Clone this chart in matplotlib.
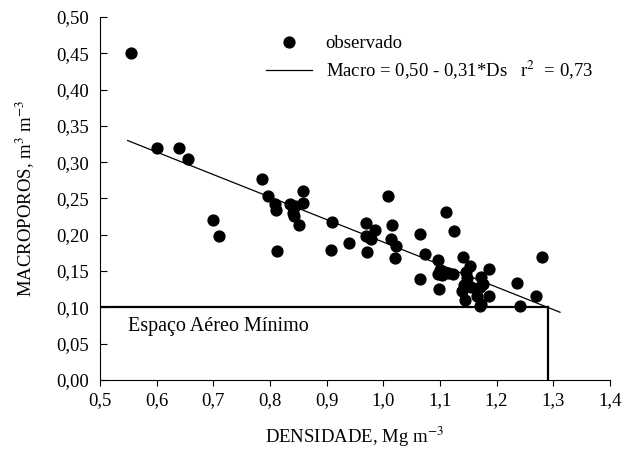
import numpy as np
import matplotlib
matplotlib.use('Agg')
import matplotlib.pyplot as plt

plt.rcParams['font.family'] = ['Liberation Serif', 'DejaVu Serif']
plt.rcParams['mathtext.fontset'] = 'stix'

# observed points (density, macroporosity)
dens = [0.555, 0.600, 0.640, 0.655, 0.700, 0.710, 0.786, 0.797, 0.809, 0.810,
        0.812, 0.836, 0.845, 0.840, 0.842, 0.858, 0.859, 0.851, 0.909, 0.908,
        0.940, 0.969, 0.971, 0.969, 0.985, 0.978, 1.008, 1.016, 1.013, 1.023,
        1.021, 1.065, 1.125, 1.073, 1.096, 1.065, 1.099, 1.100, 1.097, 1.107,
        1.115, 1.123, 1.103, 1.111, 1.141, 1.153, 1.146, 1.147, 1.142, 1.155,
        1.139, 1.145, 1.173, 1.176, 1.171, 1.165, 1.172, 1.171, 1.187, 1.187,
        1.236, 1.241, 1.270, 1.280]
macro = [0.450, 0.320, 0.320, 0.304, 0.221, 0.199, 0.277, 0.253, 0.242, 0.234,
         0.178, 0.242, 0.239, 0.230, 0.226, 0.260, 0.244, 0.213, 0.217, 0.179,
         0.188, 0.216, 0.176, 0.198, 0.206, 0.194, 0.254, 0.214, 0.194, 0.184,
         0.168, 0.201, 0.205, 0.173, 0.165, 0.139, 0.125, 0.152, 0.146, 0.147,
         0.147, 0.146, 0.145, 0.231, 0.169, 0.157, 0.149, 0.141, 0.131, 0.128,
         0.122, 0.110, 0.142, 0.132, 0.128, 0.116, 0.105, 0.102, 0.153, 0.116,
         0.134, 0.102, 0.115, 0.170]

# fitted model: Macro = 0,50 - 0,31*Ds
a, b = 0.50, 0.31
fit_range = [0.549, 1.312]
limit_macro = 0.10
limit_dens = (a - limit_macro) / b

fig = plt.figure(figsize=(6.32, 4.5), dpi=100)
ax = fig.add_axes([0.158, 0.1556, 0.807, 0.8067])

xs = np.linspace(fit_range[0], fit_range[1], 50)
ax.plot(dens, macro, 'o', color='black', markersize=7.8, label='observado')
ax.plot(xs, a - b * xs, color='black', linewidth=0.9,
        label=r'Macro = 0,50 - 0,31*Ds   r$^{2}$  = 0,73')

# minimum air space
ax.plot([0.5, limit_dens], [limit_macro, limit_macro], color='black', linewidth=1.6)
ax.plot([limit_dens, limit_dens], [0, limit_macro], color='black', linewidth=1.6)
ax.text(0.549, 0.073, 'Espaço Aéreo Mínimo', fontsize=14.5, va='center')

ax.set_xlim(0.5, 1.4)
ax.set_ylim(0, 0.5)
ax.set_xticks(np.arange(0.5, 1.41, 0.1))
ax.set_yticks(np.arange(0, 0.501, 0.05))
ax.set_xticklabels(['{:.1f}'.format(v).replace('.', ',') for v in np.arange(0.5, 1.41, 0.1)])
ax.set_yticklabels(['{:.2f}'.format(v).replace('.', ',') for v in np.arange(0, 0.501, 0.05)])
ax.tick_params(axis='y', direction='in', length=5, labelsize=13.5, pad=8)
ax.tick_params(axis='x', direction='out', length=4, labelsize=13.5, pad=5)
ax.spines['top'].set_visible(False)
ax.spines['right'].set_visible(False)

ax.set_xlabel('DENSIDADE, Mg m$^{-3}$', fontsize=13.5, labelpad=11)
ax.set_ylabel('MACROPOROS, m$^{3}$ m$^{-3}$', fontsize=13.5, labelpad=14)

ax.legend(loc='upper left', bbox_to_anchor=(0.325, 0.95), frameon=False,
          fontsize=13.5, handlelength=2.5, handletextpad=0.7, labelspacing=0.35,
          borderpad=0, borderaxespad=0)

fig.savefig('out.png', dpi=100)
